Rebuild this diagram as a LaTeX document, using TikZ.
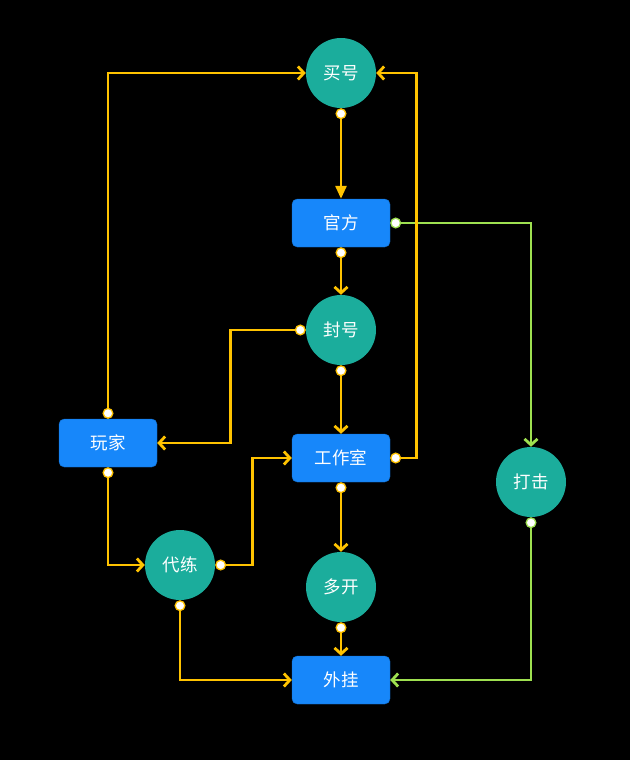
\documentclass[tikz,border=0pt]{standalone}
\usepackage{fontspec}
\newfontfamily\cjk{Noto Sans CJK SC}
\usetikzlibrary{arrows.meta}
\definecolor{flowYel}{HTML}{FFC300}
\definecolor{flowGrn}{HTML}{9EE050}
\definecolor{evtTeal}{HTML}{1BAD9C}
\definecolor{entBlue}{HTML}{1787FA}
\tikzstyle{arrow} = [line width=2.8pt,draw=flowYel,{Circle[length=11pt,fill=white,line width=1.3pt]}-{Straight Barb[length=6pt,width=13pt]}]
\tikzstyle{tarrow} = [arrow,{Circle[length=11pt,fill=white,line width=1.3pt]}-{Triangle[length=13pt,width=11pt]}]
\tikzstyle{garrow} = [arrow,draw=flowGrn]

\begin{document}
\begin{tikzpicture} [
    x=1pt,y=-1pt,
    evt/.style={circle,fill=evtTeal,minimum size=70pt,inner sep=0pt,text=white,font=\cjk\fontsize{17.5}{20}\selectfont},
    ent/.style={rectangle,draw=entBlue!80!black,fill=entBlue,rounded corners=1.2ex,minimum width=98pt,minimum height=48pt,text=white,font=\cjk\fontsize{17.5}{20}\selectfont},
    ]
    \fill[black] (0,0) rectangle (630,760);

    \node [evt] (M) at (341,73) {买号};
    \path (M) ++(0,150) node [ent] (G) {官方};
    \path (G) ++(0,107) node [evt] (F) {封号};
    \path (F) ++(0,128) node [ent] (S) {工作室};
    \path (S) ++(0,129) node [evt] (K) {多开};
    \path (K) ++(0,93)  node [ent] (W) {外挂};
    \path (S) ++(-233,-15) node [ent] (P) {玩家};
    \path (P) ++(72,122) node [evt] (D) {代练};
    \path (S) ++(190,24) node [evt] (J) {打击};

    \draw[garrow] (G.east) -| (J.north);
    \draw[garrow] (J.south) |- (W.east);
    \draw[tarrow] (M.south) -- (G.north);
    \draw[arrow] (G.south) -- (F.north);
    \draw[arrow] (F.west) -- ++(-75,0) |- (P.east);
    \draw[arrow] (F.south) -- (S.north);
    \draw[arrow] (P.north) |- (M.west);
    \draw[arrow] (P.south) |- (D.west);
    \draw[arrow] (D.east) -- ++(37,0) |- (S.west);
    \draw[arrow] (S.east) -- ++(26,0) |- (M.east);
    \draw[arrow] (S.south) -- (K.north);
    \draw[arrow] (K.south) -- (W.north);
    \draw[arrow] (D.south) |- (W.west);
    \end{tikzpicture}
\end{document}
